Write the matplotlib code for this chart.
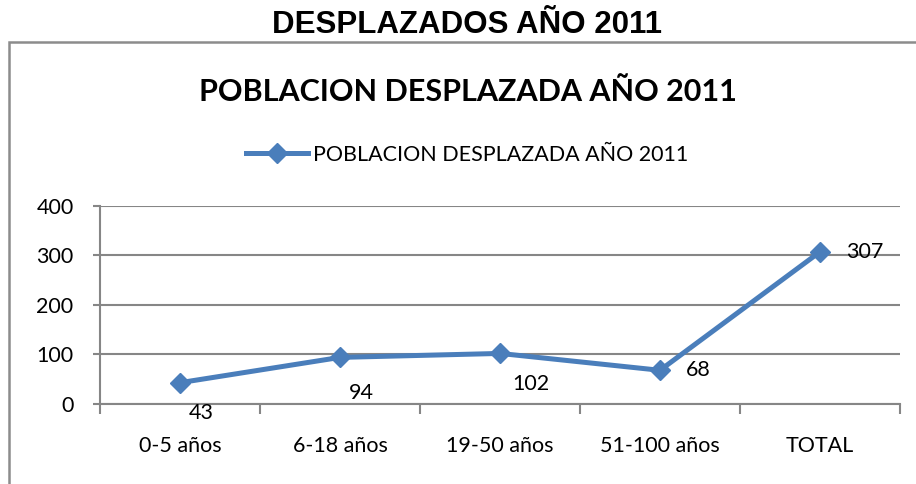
import matplotlib.pyplot as plt
import matplotlib.patches as mpatches
import numpy as np

categorias = ['0-5 años', '6-18 años', '19-50 años', '51-100 años', 'TOTAL']
poblacion = [43, 94, 102, 68, 307]
serie = 'POBLACION DESPLAZADA AÑO 2011'

# label offsets (pixels) as they sit in the original chart
offsets_px = [(9, -30), (9, -36), (12, -31), (26, 0), (26, 0)]

DPI = 100
W, H = 916, 484
fig = plt.figure(figsize=(W / DPI, H / DPI), dpi=DPI)
ax = fig.add_axes([100 / W, (H - 404) / H, 800 / W, 198.3 / H])

azul = '#4A7EBB'
gris = '#868686'
fuente = 'Lato'

x = np.arange(len(categorias))
ax.plot(x, poblacion, color=azul, lw=3.6, marker='D', ms=10, mec=azul,
        mfc=azul, label=serie, zorder=3, clip_on=False)

for xi, v, (dx, dy) in zip(x, poblacion, offsets_px):
    ax.annotate(str(v), (xi, v), xytext=(dx * 72 / DPI, dy * 72 / DPI),
                textcoords='offset points', ha='left', va='center',
                fontsize=15.5, family=fuente, color='black')

ax.set_xlim(-0.5, len(categorias) - 0.5)
ax.set_ylim(0, 400)
ax.set_yticks([0, 100, 200, 300, 400])
ax.set_xticks(x)
ax.set_xticklabels(categorias)
ax.set_xticks(np.arange(-0.5, len(categorias)), minor=True)
ax.tick_params(axis='x', which='major', length=0, pad=23, labelsize=15.5)
ax.tick_params(axis='x', which='minor', length=7, width=1.5, color=gris)
ax.tick_params(axis='y', length=5, width=1.5, color=gris, pad=14, labelsize=15.5)
for lab in ax.get_xticklabels() + ax.get_yticklabels():
    lab.set_family(fuente)

ax.grid(axis='y', color=gris, lw=1.5)
ax.set_axisbelow(True)
for s in ['top', 'right']:
    ax.spines[s].set_visible(False)
for s in ['left', 'bottom']:
    ax.spines[s].set_color(gris)
    ax.spines[s].set_linewidth(1.5)

# outer chart frame
fig.patches.append(mpatches.Rectangle((9 / W, -0.1), 1.2, (H - 42) / H + 0.1,
                                      transform=fig.transFigure, fill=False,
                                      ec='#8c8c8c', lw=1.8))

fig.text(467 / W, 1 - 25 / H, 'DESPLAZADOS AÑO 2011', ha='center', va='center',
         fontsize=22.5, fontweight='bold', family='Liberation Sans')
fig.text(468 / W, 1 - 92 / H, serie, ha='center', va='center',
         fontsize=22, fontweight='bold', family=fuente)

fig.legend(loc='center', bbox_to_anchor=(467 / W, 1 - 155 / H), frameon=False,
           prop={'family': fuente, 'size': 15.5}, handlelength=2.9,
           handletextpad=0.2)

fig.savefig('out.png', dpi=DPI)
